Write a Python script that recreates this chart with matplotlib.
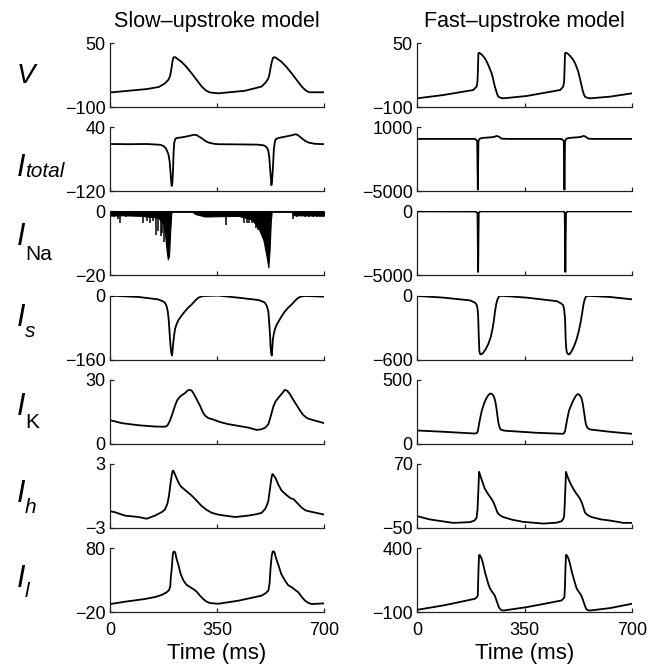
import matplotlib
matplotlib.use("Agg")
import matplotlib.pyplot as plt

plt.rcParams['font.family'] = ['Liberation Sans', 'DejaVu Sans']

# ---------------- Slow-upstroke model ----------------
slow_v_t = [0, 60, 120, 160, 180, 190, 196, 199, 202, 205, 208, 213, 220, 234,
            250, 267, 285, 300, 313, 327, 354, 441, 480, 496, 510, 518, 522,
            525, 529, 533, 538, 545, 561, 577, 594, 612, 627, 640, 651, 700]
slow_v = [-66, -62, -58, -53, -44.5, -37, -29, -18, -5.5, 10, 16.5, 17, 13, 6,
          -6, -21, -38, -52, -61, -66, -68, -62, -55, -52, -42, -33, -22, -9, 5,
          15, 17, 14, 6, -6, -21, -38, -52, -61, -65.5, -65.5]

slow_itot_t = [0, 60, 120, 165, 175, 183, 191, 195, 198, 200, 202, 204, 206,
               208, 210, 213, 218, 229, 245, 260, 275, 283, 292, 300, 311, 322,
               340, 354, 420, 480, 500, 507, 514, 518, 521, 523, 526, 528, 530,
               532, 534, 536, 539, 542, 551, 570, 590, 600, 608, 615, 627, 638,
               649, 670, 700]
slow_itot = [-2, -2.5, -2, -4, -7, -13, -27.5, -45, -73, -95, -107, -100, -70,
             -23, 0, 10, 13, 14, 16, 18.5, 21, 20.5, 16, 12.5, 6, 1.7, -1.5,
             -2.5, -3, -3.5, -5, -6.7, -12, -19, -35, -57, -85, -105, -95, -73,
             -45, -15, 2, 10, 13, 16, 19, 21, 22.5, 20, 12.5, 6, 1.7, -1.5, -2.5]

# I_Na: dense envelope plus discrete channel openings
slow_ina_env_t = [0, 38, 104, 158, 174, 180, 185, 189, 193, 196, 200, 202, 269,
                  278, 311, 354, 420, 463, 485, 502, 512, 518, 522, 526, 529,
                  594, 600, 700]
slow_ina_env = [-1.3, -1.2, -1.4, -2.0, -4, -7, -12, -15, -14, -8, -1, 0, 0,
                -0.8, -1.6, -1.5, -1.4, -2.5, -5, -9, -14, -17.5, -12, -3, 0,
                0, -1.2, -1.3]
slow_ina_spk_t = [14, 25, 33, 51, 109, 120, 131, 142, 149, 158, 167, 171, 178,
                  316, 327, 338, 354, 365, 378, 393, 411, 439, 447, 455, 463,
                  476, 485, 496, 505, 597, 611, 638, 651, 665, 678, 687, 698]
slow_ina_spk = [-1.9, -2.5, -3.5, -1.9, -3.5, -3.0, -3.5, -3.0, -7.3, -6.2,
                -7.8, -6.8, -9.5, -1.9, -1.9, -1.9, -1.9, -1.9, -4.1, -1.9,
                -1.9, -3.5, -3.5, -3.5, -3.5, -5.2, -5.7, -7.3, -8.9, -2.5,
                -1.9, -1.9, -1.9, -1.9, -1.9, -1.9, -1.9]

slow_is_t = [0, 93, 158, 175, 180, 185, 189, 192, 194, 196, 198, 201, 203, 205,
             207, 210, 213, 218, 224, 235, 245, 256, 267, 278, 289, 300, 311,
             354, 420, 485, 500, 507, 513, 518, 520, 522, 524, 525, 527, 529,
             531, 533, 536, 540, 545, 551, 562, 572, 583, 594, 605, 616, 627,
             638, 700]
slow_is = [0, -3.4, -9.5, -15, -18, -26, -39.6, -60, -82.6, -105, -125.6, -145,
           -150, -135, -117, -98, -82.6, -71, -61, -49, -39.6, -30, -22.4, -13,
           -5.2, -2, -0.9, 0, -5.2, -11, -15, -18, -26, -39.6, -60, -82.6, -105,
           -125.6, -143, -150, -130, -108, -95, -82.6, -73, -65, -51, -39.6,
           -30, -22.4, -13, -5.2, -2, -0.9, -2.6]

slow_ik_t = [0, 38, 93, 147, 180, 188, 196, 204, 213, 220, 229, 237, 245, 254,
             262, 268, 273, 283, 294, 303, 311, 322, 333, 360, 387, 420, 452,
             480, 495, 508, 518, 526, 534, 542, 551, 562, 572, 580, 589, 600,
             611, 622, 632, 645, 660, 680, 700]
slow_ik = [11.1, 9.7, 8.7, 8.1, 8.0, 8.6, 10.8, 14, 18, 20.5, 22.1, 23, 23.7,
           25, 25.3, 24.8, 23.7, 21, 18, 15, 13.2, 12, 11.6, 10.2, 9.2, 8.4,
           7.6, 6.5, 6.8, 7.6, 9.2, 13, 17.3, 20, 21.6, 23.5, 25.3, 24.8, 23.2,
           20.5, 18, 15.5, 13.5, 12, 11.3, 10.5, 9.7]

slow_ih_t = [0, 16, 49, 93, 120, 147, 170, 180, 188, 193, 198, 202, 205, 207,
             210, 218, 226, 234, 250, 265, 273, 287, 300, 316, 333, 355, 376,
             409, 452, 480, 496, 508, 514, 518, 523, 527, 530, 532, 535, 542,
             550, 561, 575, 590, 600, 614, 627, 640, 649, 700]
slow_ih = [-1.42, -1.52, -1.84, -1.97, -2.13, -1.84, -1.5, -1.26, -0.7, 0.03,
           1.2, 1.97, 2.35, 2.39, 2.2, 1.65, 1.15, 0.84, 0.45, 0.1, -0.13,
           -0.55, -0.94, -1.3, -1.58, -1.75, -1.84, -1.97, -1.84, -1.7, -1.58,
           -1.2, -0.8, -0.45, 0.6, 1.48, 1.95, 2.06, 1.95, 1.65, 1.1, 0.52,
           0.15, -0.2, -0.29, -0.7, -1.10, -1.35, -1.42, -1.74]

slow_il_t = [0, 49, 114, 150, 169, 185, 193, 197, 199, 202, 205, 207, 210, 213,
             218, 224, 231, 240, 250, 262, 273, 283, 294, 305, 316, 327, 354,
             420, 496, 510, 518, 522, 525, 529, 532, 535, 538, 544, 551, 560,
             572, 583, 594, 605, 616, 627, 638, 649, 660, 700]
slow_il = [-7.3, -3.6, 0.6, 4, 7, 11, 14.5, 20, 35, 48.3, 68, 73.7, 75, 73.7,
           63, 53.5, 40, 29.7, 23, 19.2, 16, 12.3, 6, 0.6, -3.5, -5.7, -6.8, -2,
           5.9, 10, 13.9, 25, 48.3, 68, 74.7, 75, 73.7, 63, 53.5, 40, 29.7, 22,
           19.2, 15, 11.2, 4, -2, -5.5, -7.3, -6.2]

# ---------------- Fast-upstroke model ----------------
fast_v_t = [0, 86, 183, 194, 197, 198, 199, 200, 203, 208, 215, 222, 227, 233,
            238, 243, 248, 252, 257, 261, 265, 272, 281, 357, 466, 476, 479,
            480, 481, 482, 485, 491, 498, 505, 509, 515, 520, 525, 530, 535,
            539, 543, 547, 554, 563, 628, 700]
fast_v = [-79.7, -71.9, -60.2, -52.3, -40, -21, 5, 26, 27, 24.5, 19.5, 13, 6.25,
          -3, -12, -21, -35, -48, -60.2, -70, -75.8, -78.5, -79.7, -74.2, -60.2,
          -52.3, -40, -21, 5, 26, 27, 25, 20, 14, 10.2, 2, -7, -17.2, -32, -47,
          -60.2, -70, -75.8, -78.5, -79.7, -75.8, -68]

fast_itot_t = [0, 189, 196, 198, 200, 205, 216, 235, 250, 259, 266, 276, 300,
               470, 478, 480, 482, 487, 498, 517, 532, 542, 549, 558, 580, 700]
fast_itot = [-100, -100, -280, -4850, -280, -60, 0, 40, 80, 180, 120, -80,
             -100, -100, -280, -4850, -280, -60, 0, 40, 80, 180, 120, -80, -100,
             -100]

fast_ina_t = [0, 190, 197, 199, 201, 206, 475, 478, 481, 483, 485, 490, 700]
fast_ina = [0, -10, -120, -4730, -120, 0, 0, -10, -120, -4730, -120, 0, 0]

fast_is_t = [0, 86, 173, 188, 194, 197, 199, 201, 203, 205, 207, 211, 216, 224,
             232, 240, 246, 250, 254, 258, 262, 266, 270, 281, 357, 455, 470,
             476, 479, 482, 484, 486, 488, 493, 498, 504, 512, 520, 527, 533,
             538, 542, 546, 550, 555, 563, 628, 700]
fast_is = [-3, -19, -45, -65, -84, -120, -181, -374, -519, -545, -552, -548,
           -535, -500, -455, -390, -310, -240, -148, -80, -35, -12, -3, -3, -19,
           -52, -75, -90, -130, -213, -406, -500, -535, -552, -545, -519, -470,
           -406, -330, -245, -160, -84, -35, -10, -3, -3, -13, -35]

fast_ik_t = [0, 86, 189, 195, 198, 201, 205, 211, 218, 225, 232, 237, 241, 246,
             251, 255, 259, 262, 265, 268, 272, 280, 287, 390, 476, 479, 482,
             485, 489, 495, 504, 510, 517, 521, 525, 530, 536, 540, 544, 547,
             550, 555, 563, 628, 700]
fast_ik = [104, 94, 80, 84, 99, 140, 192, 260, 313, 352, 380, 390, 393, 385,
           366, 330, 273, 215, 166, 135, 112, 105, 102, 86, 78, 85, 99, 140, 192,
           260, 313, 345, 374, 385, 388, 380, 353, 310, 246, 195, 152, 125, 112,
           94, 78]

fast_ih_t = [0, 42, 118, 173, 187, 194, 197, 200, 202, 204, 208, 214, 221, 230,
             237, 243, 250, 256, 262, 270, 281, 310, 346, 411, 455, 471, 477,
             479, 481, 483, 485, 488, 493, 500, 509, 518, 526, 531, 537, 542,
             547, 556, 569, 600, 628, 672, 700]
fast_ih = [-27.7, -34, -40.4, -39, -36, -30.8, -15, 23.4, 55.3, 52, 45, 35,
           23.4, 15, 9, 4.3, -3, -12, -21.3, -26, -29.6, -34.5, -38.5, -41.7,
           -40, -37.2, -32, -27.7, -5, 23.4, 55.3, 50, 42, 33, 23.4, 15, 9, 4.3,
           -3, -12, -21.3, -26, -29.6, -34, -36, -40.4, -40.4]

fast_il_t = [0, 86, 150, 189, 196, 198, 200, 202, 205, 210, 215, 221, 228, 233,
             238, 244, 249, 253, 257, 262, 266, 270, 275, 281, 357, 420, 471,
             478, 480, 482, 483, 485, 488, 493, 498, 504, 511, 516, 520, 526,
             531, 535, 539, 544, 548, 552, 557, 563, 628, 700]
fast_il = [-81.6, -47, -15, 5, 20, 31.6, 216, 347, 345, 320, 280, 216, 155, 115,
           84, 62, 45, 30, 5, -30, -58, -74, -84, -87, -60.5, -32, -8, 10, 18,
           120, 216, 347, 345, 320, 280, 216, 155, 115, 84, 62, 45, 30, 5, -30,
           -58, -79, -85, -87, -68, -34]

# y ranges per row: (slow, fast)
row_limits = [((-100, 50), (-100, 50)),
              ((-120, 40), (-5000, 1000)),
              ((-20, 0), (-5000, 0)),
              ((-160, 0), (-600, 0)),
              ((0, 30), (0, 500)),
              ((-3, 3), (-50, 70)),
              ((-20, 80), (-100, 400))]

slow_series = [(slow_v_t, slow_v), (slow_itot_t, slow_itot), None,
               (slow_is_t, slow_is), (slow_ik_t, slow_ik),
               (slow_ih_t, slow_ih), (slow_il_t, slow_il)]
fast_series = [(fast_v_t, fast_v), (fast_itot_t, fast_itot),
               (fast_ina_t, fast_ina), (fast_is_t, fast_is),
               (fast_ik_t, fast_ik), (fast_ih_t, fast_ih),
               (fast_il_t, fast_il)]

time_ticks = [0, 350, 700]
col_titles = ['Slow\u2013upstroke model', 'Fast\u2013upstroke model']

W, H = 660, 664
fig = plt.figure(figsize=(W / 100, H / 100), dpi=100)

col_left = [110, 417]
col_width = [214, 215]
row_top0, row_step, row_h = 43, 84.2, 64

lw = 1.3
for r in range(7):
    for c in range(2):
        top = row_top0 + r * row_step
        ax = fig.add_axes([col_left[c] / W, 1 - (top + row_h) / H,
                           col_width[c] / W, row_h / H])
        lo, hi = row_limits[r][c]
        ax.set_xlim(0, 700)
        ax.set_ylim(lo, hi)
        ax.set_yticks([lo, hi])
        ax.set_xticks(time_ticks)
        for s in ('top', 'right'):
            ax.spines[s].set_visible(False)
        for s in ('left', 'bottom'):
            ax.spines[s].set_linewidth(0.9)
            ax.spines[s].set_color('#222222')
        ax.tick_params(direction='in', length=3, width=0.9, labelsize=13,
                       colors='#222222', labelcolor='black', pad=3)
        ax.tick_params(axis='x', pad=7)
        if r < 6:
            ax.tick_params(labelbottom=False)
        else:
            ax.set_xlabel('Time (ms)', fontsize=16, labelpad=3)
        if c == 0 and r == 2:
            ax.fill_between(slow_ina_env_t, slow_ina_env, 0, color='black',
                            linewidth=0.8)
            ax.vlines(slow_ina_spk_t, slow_ina_spk, 0, color='black',
                      linewidth=1.1)
            ax.plot([0, 700], [0, 0], color='black', lw=0.8)
        else:
            t, y = (slow_series if c == 0 else fast_series)[r]
            ax.plot(t, y, color='black', lw=lw, solid_joinstyle='round')

# column titles
for c in range(2):
    fig.text((col_left[c] + col_width[c] / 2) / W, 1 - 27 / H, col_titles[c],
             ha='center', va='baseline', fontsize=15.5)


def ftext(x, y, s, **kw):
    fig.text(x / W, 1 - y / H, s, va='baseline', **kw)


# row labels (left column only)
ftext(17, 83, 'V', fontsize=20, style='italic')
labels = [(1, 176, 177, 'total', 'italic'),
          (2, 245, 260, 'Na', 'normal'),
          (3, 326, 337, 's', 'italic'),
          (4, 415, 428, 'K', 'normal'),
          (5, 502, 513, 'h', 'italic'),
          (6, 587, 597, 'l', 'italic')]
for r, yb, ys, sub, st in labels:
    ftext(17, yb, 'I', fontsize=22, style='italic')
    ftext(25, ys, sub, fontsize=15, style=st)

fig.savefig('out.png', dpi=100)
